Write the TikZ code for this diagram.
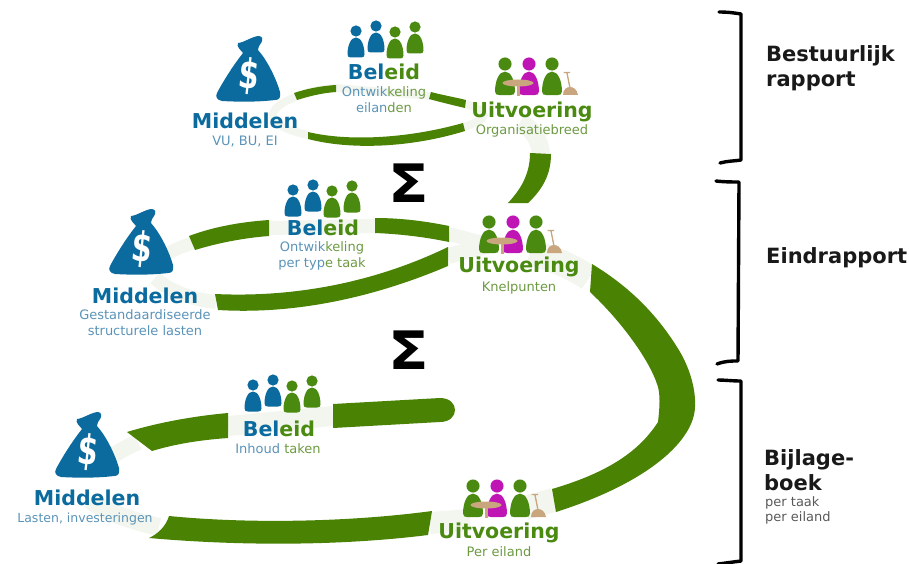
\documentclass[tikz,border=0pt]{standalone}
\usepackage{fontspec}
\setmainfont{DejaVu Sans}
\definecolor{bandg}{HTML}{4A8203}
\definecolor{pale}{HTML}{F3F6EF}
\definecolor{gblue}{HTML}{0B6A9E}
\definecolor{ggreen}{HTML}{4A8A10}
\definecolor{lblue}{HTML}{5A93B8}
\definecolor{lgreen}{HTML}{6C9A42}
\definecolor{mag}{HTML}{C015B5}
\definecolor{tan}{HTML}{C9A67E}
\tikzset{
  band/.style={fill=bandg,draw=none},
  palering/.style={draw=pale,line width=8pt,line cap=butt},
  head/.style={font=\bfseries\fontsize{20.5}{24}\selectfont,inner sep=0pt,anchor=center},
  sub/.style={font=\fontsize{13}{16}\selectfont,inner sep=0pt,align=center,anchor=center},
  brace/.style={draw=black,line width=3.4pt,line cap=round,line join=round},
  rep/.style={font=\bfseries\fontsize{21}{25}\selectfont,inner sep=0pt,align=left,anchor=west,text=black!90},
  sigma/.style={font=\bfseries\fontsize{53}{53}\selectfont,inner sep=0pt},
}
% person: #1 x, #2 y of head centre, #3 colour, #4 scale
\newcommand{\persn}[4]{%
  \fill[#3] (#1,#2) circle[radius=5.6*#4];
  \fill[#3] ({#1-8.5*#4},{#2+23.5*#4}) .. controls ({#1-8.5*#4},{#2+14*#4}) and ({#1-5*#4},{#2+6.5*#4}) .. (#1,{#2+6.5*#4})
    .. controls ({#1+5*#4},{#2+6.5*#4}) and ({#1+8.5*#4},{#2+14*#4}) .. ({#1+8.5*#4},{#2+23.5*#4})
    .. controls ({#1+8.5*#4},{#2+26*#4}) and ({#1+7*#4},{#2+26.5*#4}) .. ({#1+5*#4},{#2+26.5*#4})
    -- ({#1-5*#4},{#2+26.5*#4})
    .. controls ({#1-7*#4},{#2+26.5*#4}) and ({#1-8.5*#4},{#2+26*#4}) .. ({#1-8.5*#4},{#2+23.5*#4}) -- cycle;}
% policy group, #1 #2 = left-most head
\newcommand{\policy}[2]{%
  \persn{#1}{#2}{gblue}{1}
  \persn{#1+20}{#2-5}{gblue}{1}
  \persn{#1+39}{#2+1}{ggreen}{1}
  \persn{#1+59}{#2-4}{ggreen}{1}}
% execution group, #1 #2 = left head
\newcommand{\execgroup}[2]{%
  \persn{#1}{#2}{ggreen}{1.17}
  \persn{#1+24}{#2}{mag}{1.17}
  \persn{#1+47}{#2}{ggreen}{1.17}
  \fill[tan] ({#1+13},{#2+19}) ellipse[x radius=15.5,y radius=3.5];
  \fill[tan] ({#1+11.5},{#2+20}) rectangle ({#1+14.5},{#2+32});
  \fill[tan] ({#1+58},{#2+31}) .. controls ({#1+58},{#2+25}) and ({#1+62},{#2+23}) .. ({#1+65},{#2+23})
     .. controls ({#1+68},{#2+23}) and ({#1+72},{#2+25}) .. ({#1+73},{#2+31}) -- cycle;
  \draw[tan,line width=1.3pt] ({#1+65},{#2+24}) -- ({#1+62},{#2+9}) ({#1+58.5},{#2+8.5}) -- ({#1+65},{#2+8.5});}
% money bag, #1 #2 centre
\newcommand{\moneybag}[2]{%
  \begin{scope}[shift={(#1,#2)}]
    \fill[gblue] (-11,-25) .. controls (-6,-25) and (4,-32) .. (10,-32)
      .. controls (14,-32) and (14,-27) .. (12,-25)
      .. controls (10,-22) and (9,-20) .. (9,-18)
      .. controls (18,-8) and (27,10) .. (31,24)
      .. controls (32,30) and (30,32) .. (26,32)
      .. controls (10,34) and (-10,34) .. (-27,33)
      .. controls (-32,32) and (-34,29) .. (-32,25)
      .. controls (-24,10) and (-14,-5) .. (-6,-15)
      .. controls (-8,-18) and (-13,-21) .. (-11,-25) -- cycle;
    \node[font=\bfseries\fontsize{31}{31}\selectfont,text=white,inner sep=0pt,rotate=-6] at (0,8) {\scalebox{.95}[1.32]{\$}};
  \end{scope}}
\begin{document}
\begin{tikzpicture}[x=1pt,y=-1pt]
\useasboundingbox (0,0) rectangle (909,564);
\coordinate (m1) at (296,97); \coordinate (m1b) at (308,135);
\coordinate (b1a) at (336,88); \coordinate (b1b) at (431,96);
\coordinate (u1a) at (466,104); \coordinate (u1b) at (464,127);
\coordinate (m2) at (192,243); \coordinate (m2b) at (216,302);
\coordinate (b2a) at (269,228); \coordinate (b2b) at (375,226);
\coordinate (u2a) at (449,234); \coordinate (u2b) at (448,256);
\coordinate (m3) at (138,442); \coordinate (m3b) at (159,527);
\coordinate (b3a) at (228,426); \coordinate (b3b) at (333,416);
\coordinate (u3a) at (430,523); \coordinate (u3b) at (554,500);
% pale rings behind the bands
\draw[palering] (b1a) .. controls (320,89) and (306,92) .. (m1)
  .. controls (265,108) and (262,125) .. (m1b);
\draw[palering] (b1a) -- (b1b);
\draw[palering] (u1a) .. controls (490,112) and (490,118) .. (u1b);
\draw[palering,line width=18pt] (541,154) .. controls (540,140) and (532,128) .. (520,122);
\draw[palering,line width=13pt] (m2) .. controls (175,249) and (165,254) .. (155,262);
\draw[palering,line width=14pt] (m2b) .. controls (195,300) and (170,292) .. (155,278);
\draw[palering,line width=14pt] (b2a) -- (b2b);
\draw[palering,line width=14pt] (u2a) -- (490,245);
\draw[palering,line width=16pt] (u2b) -- (490,245);
\draw[palering,line width=26pt] (589,278) .. controls (570,265) and (550,258) .. (530,252);
\draw[palering,line width=16pt] (m3) .. controls (125,448) and (112,455) .. (100,465);
\draw[palering,line width=18pt] (m3b) .. controls (130,520) and (105,512) .. (90,500);
\draw[palering,line width=20pt] (b3a) -- (b3b);
\draw[palering,line width=22pt] (u3a) -- (470,520);
\draw[palering,line width=24pt] (u3b) -- (525,508);
% bands of the top loop
\fill[band] (294,93) .. controls (306,89) and (320,86) .. (336,85) -- (336,92) .. controls (322,93) and (310,96) .. (297,100) -- cycle;
\fill[band] (431,92) .. controls (442,95) and (454,97) .. (466,100) -- (465,108) .. controls (452,105) and (440,102) .. (429,99) -- cycle;
\fill[band] (308,132) .. controls (350,142) and (410,138) .. (463,123) -- (465,131) .. controls (410,148) and (350,150) .. (308,139) -- cycle;
\fill[band] (530,153) -- (551,154) .. controls (551,175) and (542,190) .. (528,203) -- (508,203) .. controls (520,190) and (530,175) .. (530,153) -- cycle;
% bands of the middle loop
\fill[band] (189,236) .. controls (213,227) and (240,222) .. (269,220) -- (269,236) .. controls (243,238) and (218,243) .. (195,250) -- cycle;
\fill[band] (375,218) .. controls (400,218) and (425,221) .. (449,226) -- (449,242) .. controls (425,237) and (400,234) .. (375,233) -- cycle;
\fill[band] (215,294) .. controls (300,298) and (380,280) .. (448,247) -- (448,266) .. controls (380,295) and (300,315) .. (218,310) -- cycle;
% band from Knelpunten to Per eiland
\fill[band] (592,264) .. controls (635,290) and (660,320) .. (677,347)
  .. controls (690,367) and (696,390) .. (695,407)
  .. controls (694,440) and (650,482) .. (556,512) -- (552,489)
  .. controls (610,472) and (640,450) .. (658,422)
  .. controls (660,405) and (660,395) .. (658,387)
  .. controls (650,360) and (620,320) .. (590,292) -- cycle;
% bands of the lowest loop
\fill[band] (127,432) .. controls (160,422) and (195,416) .. (228,413) -- (228,438) .. controls (200,440) and (175,444) .. (152,451) -- cycle;
\fill[band] (333,404) -- (440,398) .. controls (460,398) and (460,422) .. (440,422) -- (333,428) -- cycle;
\fill[band] (169,516) .. controls (250,524) and (350,522) .. (432,511) -- (428,535)
  .. controls (340,546) and (240,546) .. (149,538) .. controls (158,534) and (166,526) .. (169,516) -- cycle;
% Sigma signs
\node[sigma] (s1) at (409,183) {\scalebox{1.12}[1]{Σ}};
\node[sigma] (s2) at (409,350) {\scalebox{1.12}[1]{Σ}};
% icons
\moneybag{249}{68}
\moneybag{142}{241}
\moneybag{88}{444}
\policy{356}{31}
\policy{293}{190}
\policy{253}{385}
\execgroup{505}{64}
\execgroup{489}{222}
\execgroup{473}{486}
% labels
\node[head,text=gblue] (mid1) at (245,121) {Middelen};
\node[sub,text=lblue] (mid1s) at (245,142) {VU, BU, EI};
\node[head] (bel1) at (384,72) {\textcolor{gblue}{Bel}\textcolor{ggreen}{eid}};
\node[sub] (bel1s) at (384,100) {\textcolor{lblue}{Ontwik}\textcolor{lgreen}{keling}\\\textcolor{lblue}{eilan}\textcolor{lgreen}{den}};
\node[head,text=ggreen] (uit1) at (532,112) {Uitvoering};
\node[sub,text=lgreen] (uit1s) at (532,131) {Organisatiebreed};
\node[head,text=gblue] (mid2) at (145,296) {Middelen};
\node[sub,text=lblue] (mid2s) at (145,323) {Gestandaardiseerde\\structurele lasten};
\node[head] (bel2) at (323,228) {\textcolor{gblue}{Bel}\textcolor{ggreen}{eid}};
\node[sub] (bel2s) at (322,256) {\textcolor{lblue}{Ontwik}\textcolor{lgreen}{keling}\\\textcolor{lblue}{per typ}\textcolor{lgreen}{e taak}};
\node[head,text=ggreen] (uit2) at (519,267) {Uitvoering};
\node[sub,text=lgreen] (uit2s) at (519,288) {Knelpunten};
\node[head,text=gblue] (mid3) at (87,498) {Middelen};
\node[sub,text=lblue,font=\fontsize{12.5}{15}\selectfont] (mid3s) at (85,519) {Lasten, investeringen};
\node[head] (bel3) at (279,429) {\textcolor{gblue}{Bel}\textcolor{ggreen}{eid}};
\node[sub] (bel3s) at (278,449) {\textcolor{lblue}{Inhoud }\textcolor{lgreen}{taken}};
\node[head,text=ggreen] (uit3) at (499,533) {Uitvoering};
\node[sub,text=lgreen] (uit3s) at (499,552) {Per eiland};
% braces
\coordinate (br1a) at (719,12); \coordinate (br1b) at (720,163);
\coordinate (br2a) at (716,181); \coordinate (br2b) at (717,364);
\coordinate (br3a) at (718,380); \coordinate (br3b) at (718,564);
\draw[brace] (br1a) .. controls (728,12) and (735,13) .. (741,14) -- (741,160) .. controls (735,161) and (727,161) .. (br1b);
\draw[brace] (br2a) .. controls (725,182) and (732,182) .. (739,182) -- (738,361) .. controls (731,361) and (725,361) .. (br2b);
\draw[brace] (br3a) .. controls (725,380) and (732,381) .. (741,381) -- (741,561) .. controls (733,562) and (726,563) .. (br3b);
% report labels
\node[rep] (r1) at (766,68) {Bestuurlijk\\rapport};
\node[rep] (r2) at (766,258) {Eindrapport};
\node[rep] (r3) at (764,470) {Bijlage-\\boek};
\node[font=\fontsize{13}{15}\selectfont,inner sep=0pt,align=left,anchor=west,text=black!65] (r3s) at (765,510) {per taak\\per eiland};
\end{tikzpicture}
\end{document}
